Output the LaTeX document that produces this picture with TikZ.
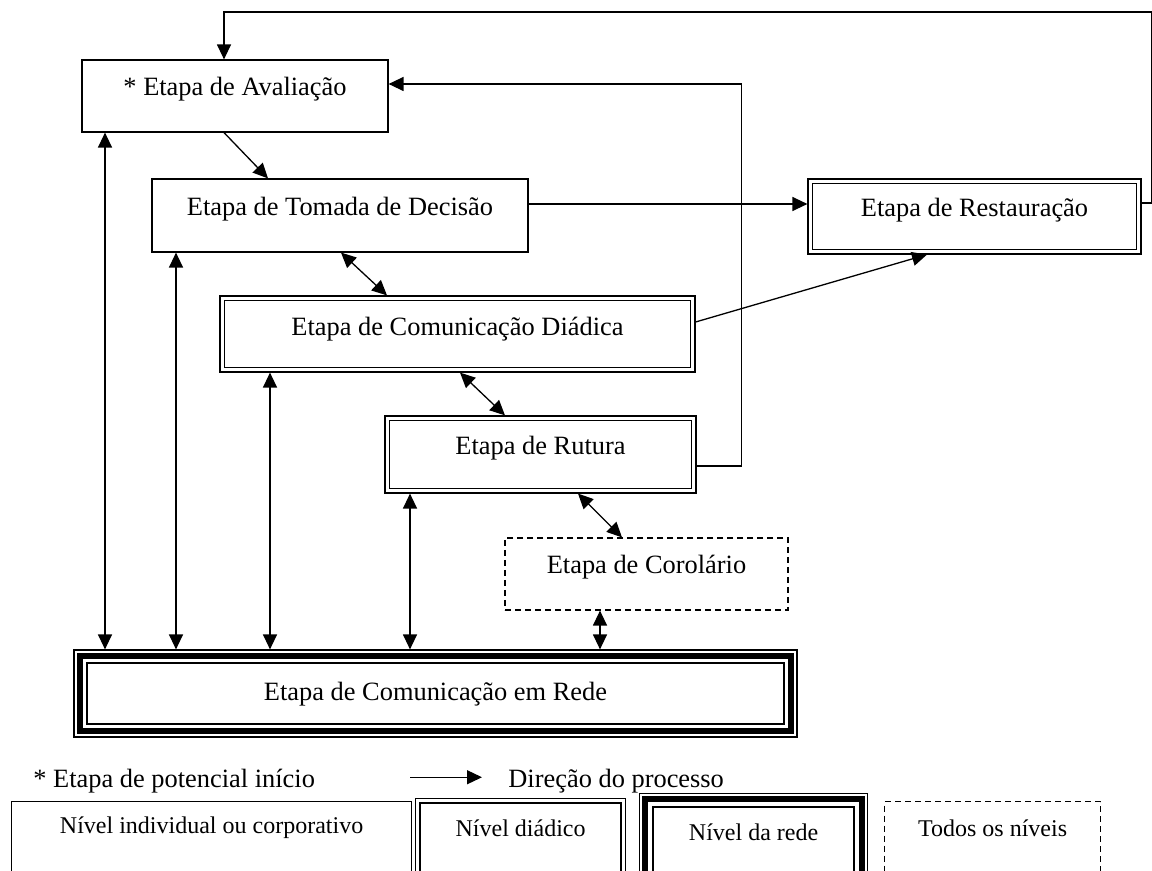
\documentclass[tikz,border=0pt]{standalone}
\usepackage{fontspec}
\setmainfont{Liberation Serif}
\usetikzlibrary{arrows.meta}

\newcommand{\insetbox}[2]{\draw[line width=#2]
  ([shift={(#1,-#1)}]path picture bounding box.north west) rectangle
  ([shift={(-#1,#1)}]path picture bounding box.south east);}

\begin{document}
\begin{tikzpicture}[ x=0.5pt, y=-0.5pt, >={Triangle[length=7.5pt,width=7pt]},
        stage/.style={ draw, line width=0.6pt, inner sep=0pt, text height=9pt,
          text depth=9pt, font=\fontsize{13.2}{16}\selectfont },
        dyad/.style={ stage, path picture={\insetbox{2.2pt}{0.8pt}} },
        net/.style={ stage, path picture={\insetbox{2.8pt}{3pt}\insetbox{6.6pt}{1pt}} },
        anystage/.style={ stage, dash pattern=on 3pt off 2pt },
        key/.style={ inner sep=0pt, font=\fontsize{13.2}{16}\selectfont },
        legtext/.style={ font=\fontsize{12}{14}\selectfont, anchor=north west },
        link/.style={ line width=0.65pt } ]
        \useasboundingbox (0,0) rectangle (1152,871);
        \clip (0,0) rectangle (1152,871);

        \node[stage,minimum width=153pt,minimum height=36pt] (aval) at (235,96) {* Etapa de Avaliação};
        \node[stage,minimum width=188pt,minimum height=36.5pt] (tom) at (340,215.5) {Etapa de Tomada de Decisão};
        \node[dyad,minimum width=166.5pt,minimum height=37.5pt] (rest) at (974.5,216.5) {Etapa de Restauração};
        \node[dyad,minimum width=237.5pt,minimum height=38pt,text height=9.75pt,
          text depth=8.25pt] (diad) at (457.5,334) {Etapa de Comunicação Diádica};
        \node[dyad,minimum width=155.5pt,minimum height=38.5pt] (rut) at (540.5,454.5) {Etapa de Rutura};
        \node[anystage,minimum width=141.5pt,minimum height=36pt] (cor) at (646.5,574) {Etapa de Corolário};
        \node[net,minimum width=361.5pt,minimum height=43.5pt,text height=12pt,
          text depth=5.5pt] (rede) at (435.5,693.5) {Etapa de Comunicação em Rede};

        \draw[link,->] ([xshift=-5.5pt]aval.south) -- ([xshift=-36pt]tom.north);
        \coordinate (tomout) at ([yshift=5.75pt]tom.east);
        \draw[link,->] (tomout) -- (tomout -| rest.west);
        \draw[link,->] ([yshift=6pt]diad.east) -- ([xshift=-23.75pt]rest.south);
        \draw[link,->] ([yshift=-5.75pt]rut.east) -- ++(45,0) |- ([yshift=6pt]aval.east);
        \draw[link,->] ([yshift=6.75pt]rest.east) -- ++(10.5,0) -- ++(0,-191)
        -| ([xshift=-5.5pt]aval.north);

        \foreach \a/\da/\b/\db in {tom/0.5/diad/-35.25,diad/1.25/rut/-17.75,rut/18.75/cor/-12.25}
        \draw[link,<->] ([xshift=\da pt]\a.south) -- ([xshift=\db pt]\b.north);

        \foreach \n/\x in {aval/105,tom/176,diad/270,rut/410,cor/600}
        \draw[link,<->] (rede.north -| \x,0) -- (\n.south -| \x,0);

        \node[key,anchor=base west] (start) at (33,787) {* Etapa de potencial início};
        \node[key,anchor=base west] (dir) at (508,787) {Direção do processo};
        \draw[link,->] ([xshift=-49pt,yshift=1.7pt]dir.west) -- ([xshift=-13pt,yshift=1.7pt]dir.west);

        \node[stage,legtext,minimum width=200pt,text height=16pt,text depth=31pt]
        (lind) at (11,801) {Nível individual ou corporativo};
        \node[dyad,legtext,minimum width=105pt,text height=19pt,text depth=29.5pt]
        (ldyad) at (415,798) {Nível diádico};
        \node[net,legtext,minimum width=114pt,text height=23.5pt,text depth=27.5pt]
        (lnet) at (639,793) {Nível da rede};
        \node[anystage,legtext,minimum width=108pt,text height=17.5pt,text depth=29.5pt]
        (lall) at (884,801) {Todos os níveis};
      \end{tikzpicture}
\end{document}
